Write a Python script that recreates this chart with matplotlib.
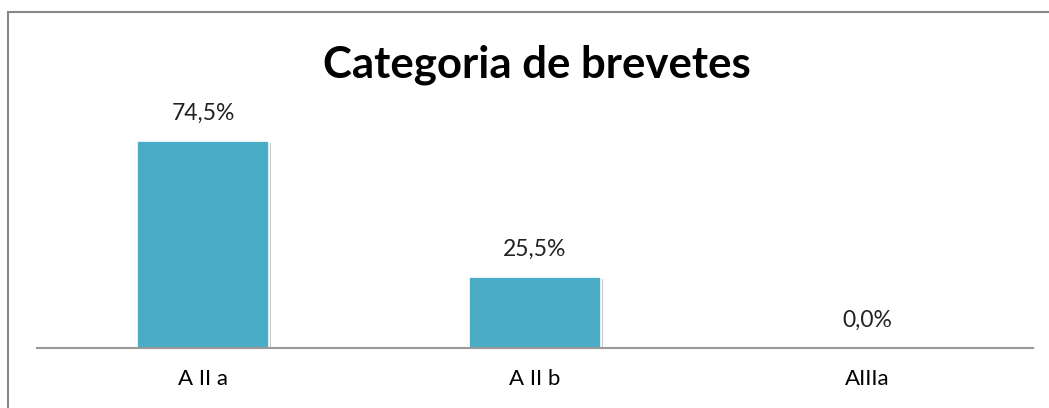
import matplotlib
matplotlib.use("Agg")
from matplotlib import pyplot as plt
from matplotlib import patheffects
from matplotlib.patches import Rectangle

categories = ["A II a", "A II b", "AIIIa"]
percentages = [74.5, 25.5, 0.0]
value_labels = ["74,5%", "25,5%", "0,0%"]

plt.rcParams["font.family"] = ["Lato", "DejaVu Sans"]

fig = plt.figure(figsize=(10.49, 4.08), dpi=100)
ax = fig.add_axes([37 / 1049, 60 / 408, 996 / 1049, 222 / 408])

bars = ax.bar(range(len(categories)), percentages, width=0.395,
              color="#4BACC6", edgecolor="white", linewidth=1.2)
for b in bars:
    b.set_path_effects([patheffects.SimplePatchShadow(offset=(2, -1.5), shadow_rgbFace="#999999", alpha=0.5),
                        patheffects.Normal()])

for i, (v, lab) in enumerate(zip(percentages, value_labels)):
    ax.annotate(lab, (i, v), xytext=(0, 20), textcoords="offset points",
                ha="center", va="center", fontsize=16.5, color="#222222")

ax.set_xlim(-0.5, 2.5)
ax.set_ylim(0, 80)
ax.set_xticks(range(len(categories)))
ax.set_xticklabels(categories, fontsize=16)
ax.tick_params(axis="x", length=0, pad=15)
ax.set_yticks([])
for s in ["top", "right", "left"]:
    ax.spines[s].set_visible(False)
ax.spines["bottom"].set_color("#999999")
ax.spines["bottom"].set_linewidth(1.5)

fig.text(537 / 1049, 1 - 65 / 408, "Categoria de brevetes", ha="center", va="center",
         fontsize=31.5, fontweight="bold")

fig.patches.append(Rectangle((8 / 1049, -0.1), 1.1, (408 - 12) / 408 + 0.1,
                             transform=fig.transFigure, fill=False,
                             edgecolor="#888888", linewidth=1.5))

fig.savefig("out.png", dpi=100)
